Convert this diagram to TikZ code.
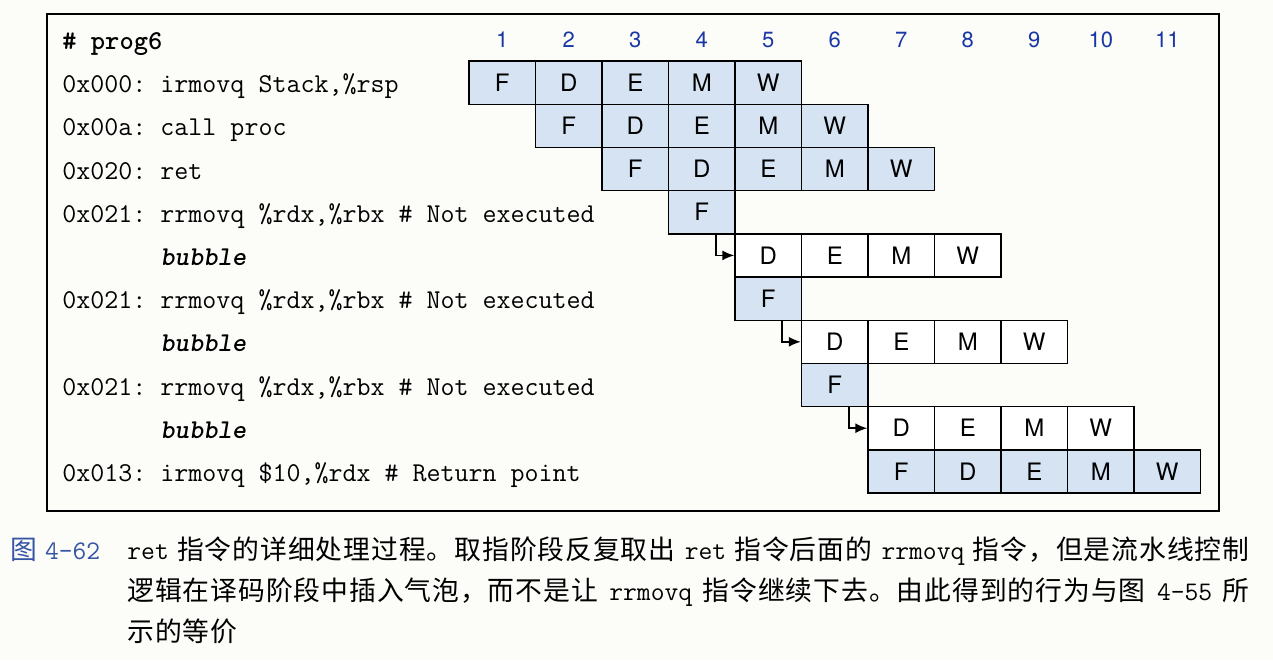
\documentclass[tikz,border=0pt]{standalone}
\usepackage{fontspec}
\newfontfamily\stagefont{TeX Gyre Heros}
\newfontfamily\cjkfont[LetterSpace=3.5]{Noto Sans CJK SC}
\usetikzlibrary{arrows.meta}
\definecolor{stageblue}{RGB}{213,227,243}
\definecolor{cyclenum}{RGB}{25,55,165}
\definecolor{figblue}{RGB}{55,85,165}
\definecolor{paper}{RGB}{252,252,249}
\frenchspacing

\begin{document}
\begin{tikzpicture}[
    x=0.5pt, y=-0.5pt,
    stage/.style={draw, line width=0.7pt, minimum width=33.25pt, minimum height=21.6pt, inner sep=0pt, font=\stagefont\fontsize{12}{14}\selectfont},
    hit/.style={stage, fill=stageblue},
    bub/.style={stage, fill=white},
    code/.style={anchor=base west, inner sep=0pt, font=\ttfamily\fontsize{13.6}{16}\selectfont},
    cyc/.style={text=cyclenum, font=\stagefont\fontsize{11}{13}\selectfont},
    captext/.style={anchor=base west, inner sep=0pt, font=\cjkfont\fontsize{13.4}{16}\selectfont},
    link/.style={-{Latex[length=6pt,width=5pt]}, line width=0.8pt}
]
\fill[paper] (0,0) rectangle (1273,660);
\useasboundingbox (0,0) rectangle (1273,660);
\draw[line width=0.7pt] (47,14) rectangle (1219,511);

% cycle numbers
\foreach \col in {1,...,11}
  \node[cyc] (n\col) at ({502.25+66.5*(\col-1)}, 40) {\col};

% program text
\node[code, font=\ttfamily\bfseries\fontsize{13.6}{16}\selectfont] (title) at (62,49) {\# prog6};
\foreach \row/\txt in {1/0x000: irmovq Stack{,}\%rsp, 2/0x00a: call proc, 3/0x020: ret,
    4/0x021: rrmovq \%rdx{,}\%rbx \# Not executed, 6/0x021: rrmovq \%rdx{,}\%rbx \# Not executed,
    8/0x021: rrmovq \%rdx{,}\%rbx \# Not executed, 10/0x013: irmovq \$10{,}\%rdx \# Return point}
  \node[code] (i\row) at (62, {92.6+43.2*(\row-1)}) {\txt};
\foreach \row in {5,7,9}
  \node[code] (i\row) at (62, {92.6+43.2*(\row-1)}) {\hphantom{0x021:\ }{\bfseries\slshape bubble}};

% pipeline stages
\foreach \row/\col in {1/1, 2/2, 3/3, 10/7}
  \foreach \s [count=\k from 0] in {F,D,E,M,W}
    \node[hit] (s\row\s) at ({502.25+66.5*(\col+\k-1)}, {82.6+43.2*(\row-1)}) {\s};
\foreach \row/\col in {4/4, 6/5, 8/6}
  \node[hit] (s\row F) at ({502.25+66.5*(\col-1)}, {82.6+43.2*(\row-1)}) {F};
\foreach \row/\col in {5/5, 7/6, 9/7}
  \foreach \s [count=\k from 0] in {D,E,M,W}
    \node[bub] (s\row\s) at ({502.25+66.5*(\col+\k-1)}, {82.6+43.2*(\row-1)}) {\s};

% bubbles injected in decode
\foreach \a/\b in {s4F/s5D, s6F/s7D, s8F/s9D}
  \draw[link] ([xshift=-10pt]\a.south east) |- (\b.west);

% caption
\node[captext, text=figblue] (fig) at (10,559) {图 \texttt{4-62}};
\node[captext] (l1) at (127,559) {\makebox[561pt][s]{\texttt{ret} 指令的详细处理过程。取指阶段反复取出 \texttt{ret} 指令后面的 \texttt{rrmovq} 指令，但是流水线控制}};
\node[captext] (l2) at (127,600) {\makebox[561pt][s]{逻辑在译码阶段中插入气泡，而不是让 \texttt{rrmovq} 指令继续下去。由此得到的行为与图 \texttt{4-55} 所}};
\node[captext] (l3) at (127,641) {示的等价};
\end{tikzpicture}
\end{document}
